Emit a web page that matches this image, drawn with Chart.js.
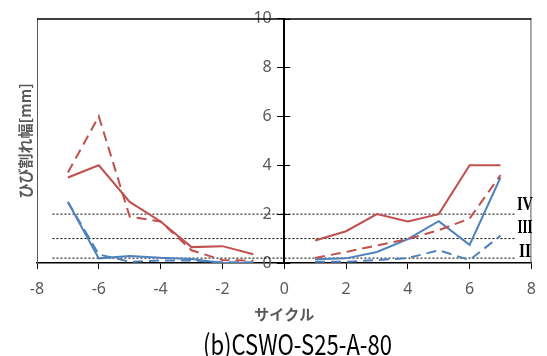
<!DOCTYPE html>
<html><head><meta charset="utf-8">
<script src="https://cdn.jsdelivr.net/npm/chart.js@4.4.0/dist/chart.umd.min.js"></script>
<style>html,body{margin:0;padding:0;background:#fff;}#wrap{width:547px;height:356px;}</style>
</head><body><div id="wrap"><canvas id="c" width="547" height="356"></canvas></div>
<script>
// ---- data ----
const cycles = [-7, -6, -5, -4, -3, -2, -1, 1, 2, 3, 4, 5, 6, 7];
const redSolid   = [3.5, 4.0, 2.5, 1.7, 0.65, 0.69, 0.36, 0.92, 1.3, 2.0, 1.7, 2.0, 4.0, 4.0];
const redDashed  = [3.7, 6.0, 1.9, 1.7, 0.52, 0.12, 0.1, 0.21, 0.45, 0.72, 0.98, 1.34, 1.82, 3.6];
const blueSolid  = [2.5, 0.19, 0.29, 0.21, 0.16, 0.0, 0.0, 0.15, 0.19, 0.45, 0.98, 1.71, 0.74, 3.5];
const blueDashed = [2.5, 0.35, 0.05, 0.1, 0.1, 0.03, 0.03, 0.05, 0.05, 0.12, 0.2, 0.52, 0.12, 1.12];
const refLevels = [2, 1, 0.2];
const refLabels = ['IV', 'III', 'II'];
const refSpan = [-7.5, 7.5];
const xTicks = [-8, -6, -4, -2, 0, 2, 4, 6, 8];
const yTicks = [0, 2, 4, 6, 8, 10];
const xTitle = 'サイクル';
const yTitle = 'ひび割れ幅[mm]';
const mainTitle = '(b)CSWO-S25-A-80';

const RED = '#C0504D', BLUE = '#4F81BD', GRAY = '#595959';

function toPoints(vals) {
  const pts = [];
  cycles.forEach((c, i) => {
    if (i > 0 && cycles[i - 1] < 0 && c > 0) pts.push({x: 0, y: null});
    pts.push({x: c, y: vals[i]});
  });
  return pts;
}
function series(vals, color, dashed) {
  return {data: toPoints(vals), borderColor: color, borderWidth: 2, borderDash: dashed ? [10, 6] : [],
    pointRadius: 0, spanGaps: false, fill: false, tension: 0};
}
const refSets = refLevels.map(v => ({
  data: refSpan.map(x => ({x, y: v})), borderColor: '#000', borderWidth: 1, borderDash: [2, 2],
  pointRadius: 0, fill: false
}));

const decor = {
  id: 'decor',
  beforeDatasetsDraw(chart) {
    const {ctx, chartArea: a} = chart;
    ctx.save();
    ctx.lineWidth = 1;
    ctx.strokeStyle = GRAY;
    ctx.beginPath();
    ctx.moveTo(a.left + 0.5, a.bottom); ctx.lineTo(a.left + 0.5, a.top);
    ctx.moveTo(a.right - 0.5, a.bottom); ctx.lineTo(a.right - 0.5, a.top);
    ctx.stroke();
    ctx.strokeStyle = '#000';
    ctx.lineWidth = 1.5;
    ctx.beginPath();
    ctx.moveTo(a.left, a.top + 0.5); ctx.lineTo(a.right, a.top + 0.5);
    ctx.stroke();
    ctx.restore();
  },
  afterDraw(chart) {
    const {ctx, chartArea: a, scales: {x, y}} = chart;
    ctx.save();
    const x0 = x.getPixelForValue(0);
    ctx.strokeStyle = '#000'; ctx.lineWidth = 1;
    ctx.beginPath();
    yTicks.forEach(v => { const py = Math.round(y.getPixelForValue(v)) + 0.5; ctx.moveTo(x0, py); ctx.lineTo(x0 + 6, py); });
    ctx.stroke();
    const offs = [-9.5, -10.5, -6];
    const widths = [16, 15, 12];
    ctx.fillStyle = '#000';
    ctx.font = 'bold 19px "Liberation Serif"';
    ctx.textBaseline = 'middle'; ctx.textAlign = 'center';
    refLabels.forEach((t, i) => {
      const w = ctx.measureText(t).width;
      ctx.save();
      ctx.translate(525, y.getPixelForValue(refLevels[i]) + offs[i]);
      ctx.scale(widths[i] / w, 1);
      ctx.fillText(t, 0, 0);
      ctx.restore();
    });
    ctx.save();
    ctx.translate(25, (a.top + a.bottom) / 2);
    ctx.rotate(-Math.PI / 2);
    ctx.font = 'bold 15px "Noto Sans CJK JP"';
    ctx.fillStyle = GRAY;
    ctx.fillText(yTitle, 0, 0);
    ctx.restore();
    ctx.save();
    ctx.font = '28px "Noto Sans CJK JP"';
    ctx.fillStyle = '#000';
    const tw = ctx.measureText(mainTitle).width;
    ctx.translate(297.5, 344);
    ctx.scale(189 / tw, 1);
    ctx.fillText(mainTitle, 0, 0);
    ctx.restore();
    ctx.restore();
  }
};

new Chart(document.getElementById('c'), {
  type: 'line',
  data: {datasets: [
    series(redSolid, RED, false), series(redDashed, RED, true),
    series(blueSolid, BLUE, false), series(blueDashed, BLUE, true),
    ...refSets
  ]},
  options: {
    responsive: false, devicePixelRatio: 1, animation: false,
    layout: {padding: {left: 37, right: 10, top: 12, bottom: 0}},
    plugins: {legend: {display: false}, tooltip: {enabled: false}},
    scales: {
      x: {type: 'linear', min: -8, max: 8,
        afterBuildTicks: s => { s.ticks = xTicks.map(v => ({value: v})); },
        ticks: {font: {family: 'Noto Sans', size: 16}, color: GRAY, padding: 11, maxRotation: 0},
        grid: {display: true, drawOnChartArea: false, drawTicks: true, tickLength: 6, color: '#000'},
        border: {display: true, color: '#000', width: 1.5},
        title: {display: true, text: xTitle, font: {family: 'Noto Sans CJK JP', size: 15, weight: 'bold'}, color: GRAY, padding: {top: 0, bottom: 33}},
        afterFit: s => { s.height = 93; }
      },
      y: {type: 'linear', min: 0, max: 10, position: {x: 0},
        afterBuildTicks: s => { s.ticks = yTicks.map(v => ({value: v})); },
        ticks: {font: {family: 'Noto Sans', size: 16}, color: GRAY, padding: 9,
          callback: v => String(v) + '   '},
        grid: {display: true, drawOnChartArea: false, drawTicks: true, tickLength: 6, color: '#000'},
        border: {display: true, color: '#000', width: 2}
      }
    }
  },
  plugins: [decor]
});
</script></body></html>
